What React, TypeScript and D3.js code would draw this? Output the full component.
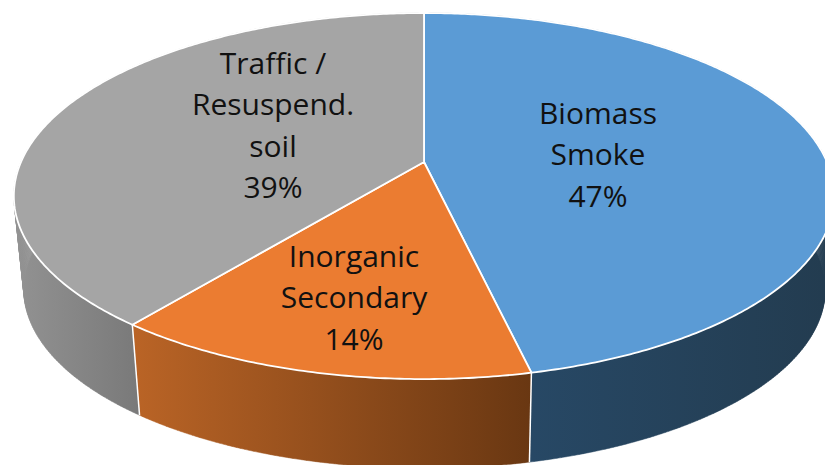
import { useEffect, useRef } from "react"
import * as d3 from "d3"

const width = 825
const height = 465

// shares read from the slice boundaries, the labels round them
const categories = ["Biomass Smoke", "Inorganic Secondary", "Traffic / Resuspend. soil"]
const shares = [46.5, 14.1, 39.4]
const labelLines = [["Biomass", "Smoke"], ["Inorganic", "Secondary"], ["Traffic /", "Resuspend.", "soil"]]
const labelPct = ["47%", "14%", "39%"]

const topColors = ["#5b9bd5", "#eb7c31", "#a5a5a5"]
const sideStops = [
  ["#274865", "#233c50"],
  ["#ba6426", "#693712"],
  ["#929292", "#797979"],
]
const sideRange = [
  [532, 825],
  [133, 532],
  [17, 140],
]
const labelAnchor = [
  [598, 113],
  [354, 256],
  [273, 63],
]
const lineGap = 41.5

// tilted disc with a bit of perspective, so the apex sits above the ellipse middle
const cx = 424
const cy = 162
const rx = 403
const ry = 176.7
const persp = 0.186
const depthScale = 0.977
const vanish = { x: 446, y: 4260 }

function project(angle: number): [number, number] {
  const w = 1 + persp * Math.cos(angle)
  return [cx + (rx * Math.sin(angle)) / w, cy - (ry * Math.cos(angle)) / w]
}

function lower([x, y]: [number, number]): [number, number] {
  return [vanish.x + (x - vanish.x) * depthScale, vanish.y + (y - vanish.y) * depthScale]
}

function arcPoints(a0: number, a1: number) {
  const n = Math.max(4, Math.ceil((a1 - a0) / 0.01))
  return d3.range(n + 1).map((i) => project(a0 + ((a1 - a0) * i) / n))
}

export default function App() {
  const svgRef = useRef<SVGSVGElement>(null)

  useEffect(() => {
    if (!svgRef.current) return
    const svg = d3.select(svgRef.current)
    svg.selectAll("*").remove()

    const arcs = d3.pie<number>().sort(null)(shares)
    const line = d3.line()

    const defs = svg.append("defs")
    arcs.forEach((_, i) => {
      const g = defs
        .append("linearGradient")
        .attr("id", `side${i}`)
        .attr("gradientUnits", "userSpaceOnUse")
        .attr("x1", sideRange[i][0])
        .attr("x2", sideRange[i][1])
        .attr("y1", 0)
        .attr("y2", 0)
      g.append("stop").attr("offset", 0).attr("stop-color", sideStops[i][0])
      g.append("stop").attr("offset", 1).attr("stop-color", sideStops[i][1])
    })

    // side walls as thin quads, so the silhouette joins the two rims properly
    const walls = svg.append("g")
    arcs.forEach((d, i) => {
      const upper = arcPoints(d.startAngle, d.endAngle)
      const strips = d3.pairs(upper).map(([a, b]) => {
        return line([a, b, lower(b), lower(a)]) + "Z"
      })
      walls
        .append("path")
        .attr("d", strips.join(""))
        .attr("fill", `url(#side${i})`)
        .attr("fill-rule", "nonzero")
        .attr("stroke", `url(#side${i})`)
        .attr("stroke-width", 0.5)
    })

    // white seams where the wall colours change
    svg
      .append("g")
      .selectAll("line")
      .data(arcs.filter((d) => project(d.endAngle)[1] > 300))
      .join("line")
      .attr("x1", (d) => project(d.endAngle)[0])
      .attr("y1", (d) => project(d.endAngle)[1])
      .attr("x2", (d) => lower(project(d.endAngle))[0])
      .attr("y2", (d) => lower(project(d.endAngle))[1])
      .attr("stroke", "white")
      .attr("stroke-width", 1.5)

    svg
      .append("g")
      .selectAll("path")
      .data(arcs)
      .join("path")
      .attr("d", (d) => line([[cx, cy], ...arcPoints(d.startAngle, d.endAngle)]) + "Z")
      .attr("fill", (_, i) => topColors[i])
      .attr("stroke", "white")
      .attr("stroke-width", 1.8)
      .attr("stroke-linejoin", "round")

    const labels = svg
      .append("g")
      .attr("font-family", "'Open Sans', sans-serif")
      .attr("font-size", 30)
      .attr("fill", "#111")
      .attr("text-anchor", "middle")
      .selectAll("text")
      .data(categories)
      .join("text")
      .attr("data-name", (d) => d)

    labels.each(function (_, i) {
      const lines = [...labelLines[i], labelPct[i]]
      d3.select(this)
        .selectAll("tspan")
        .data(lines)
        .join("tspan")
        .attr("x", labelAnchor[i][0])
        .attr("y", (_, j) => labelAnchor[i][1] + j * lineGap)
        .attr("dy", "0.35em")
        .text((d) => d)
    })
  }, [])

  return (
    <svg
      ref={svgRef}
      width={width}
      height={height}
      style={{ position: "absolute", left: 0, top: 0, background: "white" }}
    />
  )
}
